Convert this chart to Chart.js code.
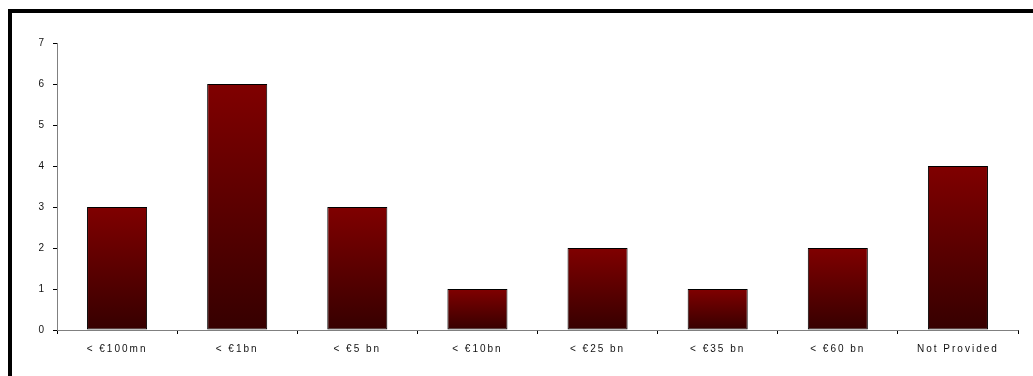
<!DOCTYPE html>
<html>
<head>
<meta charset="utf-8">
<script src="https://cdn.jsdelivr.net/npm/chart.js@4/dist/chart.umd.min.js"></script>
<style>
  html, body { margin: 0; padding: 0; background: #fff; }
  #wrap { position: relative; width: 1033px; height: 376px; overflow: hidden; }
  #frame { position: absolute; left: 8px; top: 9px; width: 1040px; height: 380px;
           border-top: 4px solid #000; border-left: 4px solid #000; box-sizing: border-box; }
  canvas { position: absolute; left: 0; top: 0; }
</style>
</head>
<body>
<div id="wrap">
  <div id="frame"></div>
  <canvas id="c" width="1033" height="376"></canvas>
</div>
<script>
// Deal counts by company size band
const categories = ["< €100mn", "< €1bn", "< €5 bn", "< €10bn", "< €25 bn", "< €35 bn", "< €60 bn", "Not Provided"];
const counts = [3, 6, 3, 1, 2, 1, 2, 4];
const yTicks = [0, 1, 2, 3, 4, 5, 6, 7];

// Dark red fade from the top of each bar down to its base
function barGradient(ctx) {
  const chart = ctx.chart;
  const area = chart.chartArea;
  if (!area || ctx.type !== 'data') return '#600000';
  const y = chart.scales.y;
  const top = y.getPixelForValue(ctx.parsed.y);
  const base = y.getPixelForValue(0);
  const g = chart.ctx.createLinearGradient(0, top, 0, base);
  g.addColorStop(0, '#800000');
  g.addColorStop(1, '#360000');
  return g;
}

// Category labels are drawn with a little extra tracking
const spacedLabels = {
  id: 'spacedLabels',
  afterLayout(chart) {
    const s = chart.scales.x;
    if (!s || s._spaced) return;
    const orig = s.drawLabels;
    s.drawLabels = function (area) {
      const c = this.ctx;
      const prev = c.letterSpacing;
      c.letterSpacing = '2px';
      orig.call(this, area);
      c.letterSpacing = prev || '0px';
    };
    s._spaced = true;
  }
};

// Grey baseline running exactly across the plot area
const baseline = {
  id: 'baseline',
  beforeDatasetsDraw(chart) {
    const { ctx, chartArea } = chart;
    const y = Math.round(chart.scales.y.getPixelForValue(0)) + 0.5;
    ctx.save();
    ctx.strokeStyle = '#808080';
    ctx.lineWidth = 1;
    ctx.beginPath();
    ctx.moveTo(chartArea.left, y);
    ctx.lineTo(chartArea.right + 0.5, y);
    ctx.stroke();
    ctx.restore();
  }
};

new Chart(document.getElementById('c'), {
  type: 'bar',
  data: {
    labels: categories,
    datasets: [{
      data: counts,
      backgroundColor: barGradient,
      borderColor: '#000',
      borderWidth: 1,
      borderSkipped: false,
      categoryPercentage: 0.5,
      barPercentage: 1.0
    }]
  },
  plugins: [spacedLabels, baseline],
  options: {
    responsive: false,
    animation: false,
    layout: { padding: { top: 43, right: 15, left: 0, bottom: 0 } },
    plugins: { legend: { display: false }, tooltip: { enabled: false } },
    scales: {
      x: {
        grid: { display: true, drawOnChartArea: false, drawTicks: true, tickLength: 4, color: '#000', offset: true },
        border: { display: false },
        ticks: { color: '#111', font: { family: 'Liberation Sans, Arial, sans-serif', size: 10 }, padding: 9, maxRotation: 0, autoSkip: false },
        afterFit: s => { s.height = 46; }
      },
      y: {
        min: 0, max: 7,
        afterBuildTicks: s => { s.ticks = yTicks.map(v => ({ value: v })); },
        grid: { display: true, drawOnChartArea: false, drawTicks: true, tickLength: 4, color: '#000' },
        border: { display: true, color: '#808080', width: 1 },
        ticks: { color: '#111', font: { family: 'Liberation Sans, Arial, sans-serif', size: 10 }, padding: 9 },
        afterFit: s => { s.width = 57; }
      }
    }
  }
});
</script>
</body>
</html>
